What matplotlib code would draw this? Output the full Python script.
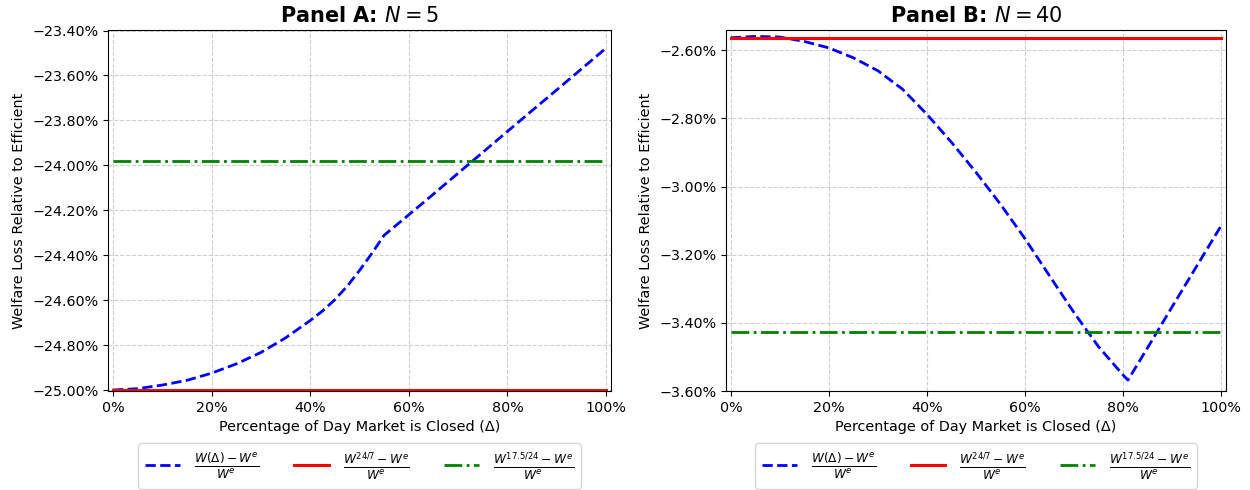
"""Welfare loss relative to efficient allocation — Panel A (N=5) and Panel B (N=40)."""

import matplotlib
matplotlib.use("Agg")
import matplotlib.pyplot as plt
from matplotlib.ticker import PercentFormatter

# --- Data (percent) ---
delta_a = [0, 5, 10, 15, 20, 25, 30, 35, 40, 42.5, 45, 47.5, 50, 52.5, 55,
           60, 65, 70, 75, 80, 85, 90, 95, 100]
welfare_a = [-25.000, -24.994, -24.978, -24.957, -24.925, -24.884, -24.833, -24.768,
             -24.691, -24.648, -24.598, -24.538, -24.468, -24.392, -24.311,
             -24.220, -24.128, -24.035, -23.942, -23.849, -23.756, -23.664,
             -23.571, -23.478]
always_open_a = -25.000       # W^{24/7}
partial_open_a = -23.982      # W^{17.5/24}

delta_b = [0, 5, 10, 15, 20, 25, 30, 35, 40, 45, 50, 55, 60, 65, 70, 75, 80, 81,
           85, 90, 95, 100]
welfare_b = [-2.563, -2.559, -2.561, -2.574, -2.593, -2.622, -2.660, -2.714, -2.788,
             -2.870, -2.958, -3.052, -3.153, -3.262, -3.370, -3.470, -3.553, -3.568,
             -3.473, -3.353, -3.234, -3.115]
always_open_b = -2.565
partial_open_b = -3.4265

panels = [
    ("Panel A: $N = 5$", delta_a, welfare_a, always_open_a, partial_open_a, (-25.0045, -23.397)),
    ("Panel B: $N = 40$", delta_b, welfare_b, always_open_b, partial_open_b, (-3.60, -2.540)),
]

LABELS = [
    r"$\frac{W(\Delta) - W^e}{W^e}$",
    r"$\frac{W^{24/7} - W^e}{W^e}$",
    r"$\frac{W^{17.5/24} - W^e}{W^e}$",
]

fig = plt.figure(figsize=(12.5, 4.9), dpi=100)
axes = [
    fig.add_axes([0.0864, 0.202, 0.4024, 0.737]),
    fig.add_axes([0.5808, 0.202, 0.4000, 0.737]),
]

for ax, (title, x, y, line24, line175, ylim) in zip(axes, panels):
    ax.plot(x, y, color="blue", linestyle="--", linewidth=2, label=LABELS[0])
    ax.plot([x[0], x[-1]], [line24, line24], color="red", linestyle="-",
            linewidth=2.2, label=LABELS[1])
    ax.plot([x[0], x[-1]], [line175, line175], color="green", linestyle="-.",
            linewidth=2, label=LABELS[2])

    ax.set_xlim(-1, 101)
    ax.set_ylim(*ylim)
    ax.set_xticks([0, 20, 40, 60, 80, 100])
    ax.xaxis.set_major_formatter(PercentFormatter(xmax=100, decimals=0))
    ax.yaxis.set_major_formatter(PercentFormatter(xmax=100, decimals=2))
    ax.tick_params(labelsize=10.3)

    ax.grid(True, linestyle="--", color="#b0b0b0", alpha=0.6, linewidth=0.8)
    ax.set_title(title, fontsize=15, fontweight="bold")
    ax.set_xlabel("Percentage of Day Market is Closed (Δ)", fontsize=10.4)
    ax.set_ylabel("Welfare Loss Relative to Efficient", fontsize=10.4)

    ax.legend(loc="upper center", bbox_to_anchor=(0.5, -0.12), ncol=3,
              fontsize=12.5, frameon=True)

fig.savefig("out.png", dpi=100)
plt.close(fig)
